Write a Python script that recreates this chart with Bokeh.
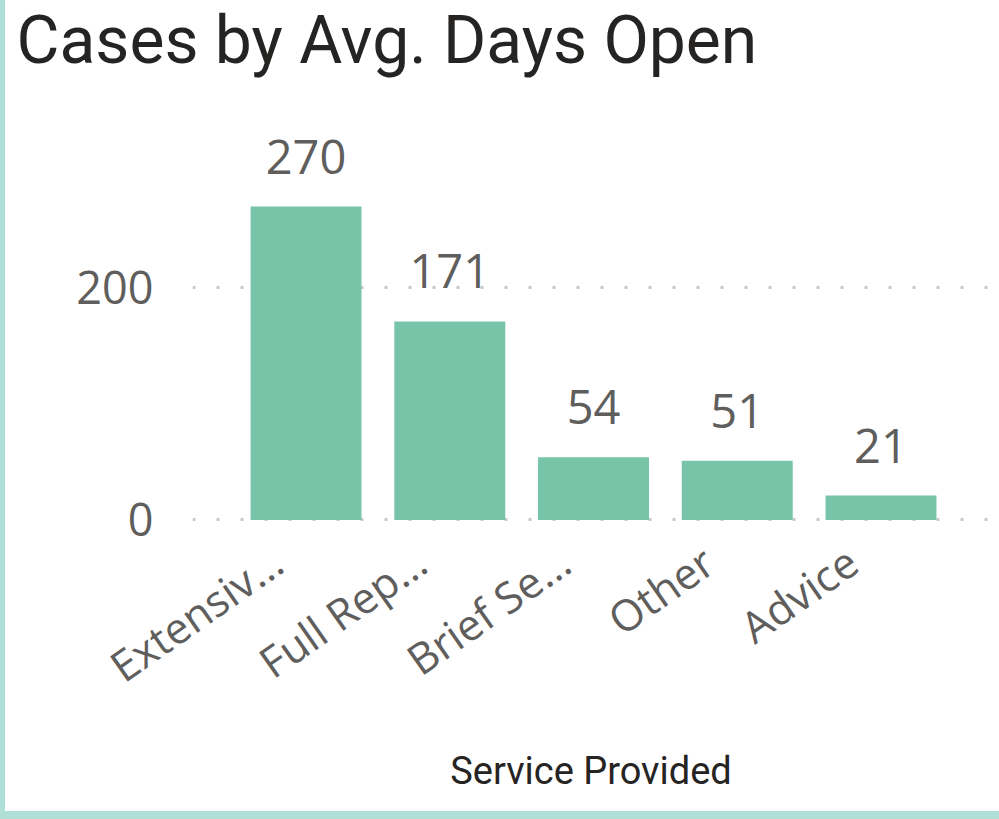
import math
from bokeh.plotting import figure
from bokeh.models import ColumnDataSource, Range1d, FixedTicker, Title
from bokeh.core.properties import value
from bokeh.embed import file_html
from bokeh.resources import INLINE

categories = ["Extensiv…", "Full Rep…", "Brief Se…", "Other", "Advice"]
values = [270, 171, 54, 51, 21]
y_ticks = [0, 200]

BAR = "#77C4A8"
BORDER = "#B0DFD8"
DARK = "#252423"
GREY = "#605E5C"

SHIFT = 31          # canvas starts above the page top so the title can sit high
H = 819 + SHIFT

idx = list(range(len(categories)))
src = ColumnDataSource(dict(x=idx, cat=categories, val=values,
                            lab=[str(v) for v in values]))

p = figure(
    width=999, height=H,
    x_range=Range1d(-0.79, len(categories) - 0.245),
    y_range=Range1d(-2.2, 351.0),
    output_backend="svg", toolbar_location=None,
    min_border_left=187, min_border_right=15,
    min_border_top=0, min_border_bottom=297,
)
p.styles = {"position": "absolute", "left": "0px", "top": f"-{SHIFT}px", "box-sizing": "border-box",
            "border-left": f"5px solid {BORDER}", "border-bottom": f"8px solid {BORDER}"}
p.outline_line_color = None
p.background_fill_color = "white"
p.border_fill_color = "white"

p.vbar(x="x", top="val", width=0.772, source=src, color=BAR, line_color=None)
p.text(x="x", y="val", text="lab", source=src, text_align="center",
       text_baseline="bottom", y_offset=-33, text_font=value("Open Sans"),
       text_font_size="47px", text_color=GREY)

p.title = Title(text="Cases by Avg. Days Open", text_font="Roboto",
                text_font_size="66px", text_color=DARK, text_font_style="normal",
                align="left", offset=-176, vertical_align="top", standoff=64)

p.xgrid.grid_line_color = None
p.ygrid.grid_line_color = "#C8C8C8"
p.ygrid.grid_line_width = 3
p.ygrid.grid_line_dash = "3 21"

p.yaxis.ticker = FixedTicker(ticks=y_ticks)
p.yaxis.axis_line_color = None
p.yaxis.major_tick_line_color = None
p.yaxis.minor_tick_line_color = None
p.yaxis.major_label_text_font = "Open Sans"
p.yaxis.major_label_text_font_size = "45px"
p.yaxis.major_label_text_color = GREY
p.yaxis.major_label_standoff = 33

label_shift = -0.2
tick_pos = [i + label_shift for i in idx]
p.xaxis.ticker = FixedTicker(ticks=tick_pos)
p.xaxis.major_label_overrides = {t: c for t, c in zip(tick_pos, categories)}
p.xaxis.axis_line_color = None
p.xaxis.major_tick_line_color = None
p.xaxis.minor_tick_line_color = None
p.xaxis.major_label_orientation = math.radians(35)
p.xaxis.major_label_text_font = "Open Sans"
p.xaxis.major_label_text_font_size = "43px"
p.xaxis.major_label_text_color = GREY
p.xaxis.major_label_standoff = 28
p.xaxis.axis_label = "Service Provided"
p.xaxis.axis_label_text_font = "Roboto"
p.xaxis.axis_label_text_font_size = "38px"
p.xaxis.axis_label_text_font_style = "normal"
p.xaxis.axis_label_text_color = DARK
p.xaxis.axis_label_standoff = 27

open("out.html", "w").write(file_html(p, INLINE))
